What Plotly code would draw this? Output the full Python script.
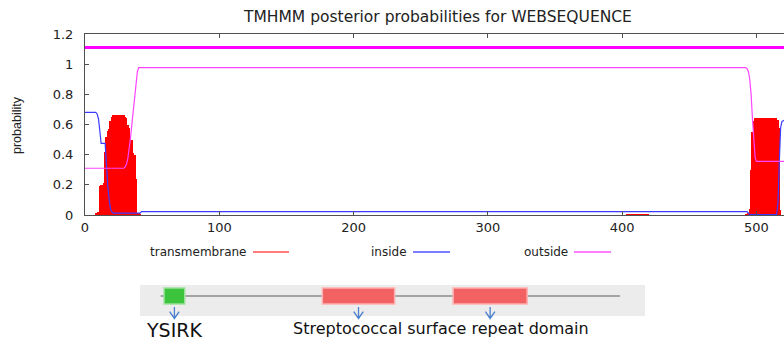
import plotly.graph_objects as go

# ---- TMHMM posterior probabilities (residue position -> probability) ----
# transmembrane helix probability, per residue (three non-zero stretches)
tm_pos_a = list(range(8, 42))
tm_val_a = [0.01, 0.015, 0.02, 0.19, 0.20, 0.20, 0.21, 0.42, 0.52, 0.56,
            0.57, 0.62, 0.65, 0.665, 0.665, 0.665, 0.665, 0.665, 0.665, 0.665,
            0.665, 0.665, 0.65, 0.64, 0.60, 0.58, 0.51, 0.50, 0.41, 0.40,
            0.24, 0.012, 0.01, 0.005]
tm_pos_b = list(range(404, 420))
tm_val_b = [0.005, 0.006, 0.006, 0.006, 0.006, 0.006, 0.006, 0.005,
            0.005, 0.006, 0.006, 0.006, 0.006, 0.005, 0.005, 0.004]
tm_pos_c = list(range(492, 519))
tm_val_c = [0.005, 0.005, 0.01, 0.04, 0.30, 0.55, 0.62, 0.64, 0.64, 0.64,
            0.64, 0.64, 0.64, 0.64, 0.64, 0.64, 0.64, 0.64, 0.64, 0.64,
            0.64, 0.64, 0.64, 0.64, 0.63, 0.58, 0.03]

# inside probability
inside_pos = [0, 8, 9, 10, 11, 12, 15, 16, 17, 18, 19, 20, 21, 41, 42,
              493, 494, 495, 515, 516, 517, 518, 519, 521]
inside_val = [0.68, 0.68, 0.67, 0.64, 0.56, 0.475, 0.475, 0.32, 0.19, 0.10,
              0.04, 0.02, 0.012, 0.012, 0.022, 0.022, 0.012, 0.002, 0.002,
              0.08, 0.35, 0.58, 0.62, 0.63]

# outside probability
outside_pos = [0, 29, 30, 31, 32, 33, 34, 35, 36, 37, 38, 39, 40,
               492, 493, 494, 495, 496, 497, 498, 499, 500, 521]
outside_val = [0.31, 0.31, 0.32, 0.34, 0.38, 0.44, 0.52, 0.61, 0.70, 0.79,
               0.88, 0.95, 0.977, 0.977, 0.97, 0.95, 0.90, 0.80, 0.64, 0.48,
               0.38, 0.355, 0.355]

# predicted topology bar (whole sequence outside)
topo_start = [0]
topo_end = [535]
topo_level = 1.11

x_ticks = [0, 100, 200, 300, 400, 500]
y_ticks = [0, 0.2, 0.4, 0.6, 0.8, 1.0, 1.2]
y_tick_text = ["0", "0.2", "0.4", "0.6", "0.8", "1", "1.2"]

# ---- domain architecture ----
protein_len = 535
domain_names = ["YSIRK", "repeat", "repeat"]
domain_start = [5, 189, 341]
domain_end = [29, 273, 427]
domain_fill = ["#3cc43c", "#f26262", "#f26262"]
domain_edge = ["#9ce09c", "#ffb0b0", "#ffb0b0"]

FONT = "DejaVu Sans"
RED, BLUE, MAGENTA = "#ff0000", "#3c3cff", "#ff44ff"

fig = go.Figure()

fig.add_trace(go.Bar(
    x=tm_pos_a + tm_pos_b + tm_pos_c,
    y=tm_val_a + tm_val_b + tm_val_c,
    width=1, marker=dict(color=RED, line=dict(width=0)),
    showlegend=False, hoverinfo="skip"))

fig.add_trace(go.Scatter(x=inside_pos, y=inside_val, mode="lines",
                         line=dict(color=BLUE, width=1.2), showlegend=False))
fig.add_trace(go.Scatter(x=outside_pos, y=outside_val, mode="lines",
                         line=dict(color=MAGENTA, width=1.2), showlegend=False))

for s, e in zip(topo_start, topo_end):
    fig.add_trace(go.Scatter(x=[s, e], y=[topo_level, topo_level], mode="lines",
                             line=dict(color="#ff00ff", width=3),
                             showlegend=False))

axis_col = "#505050"
fig.update_layout(
    width=784, height=341,
    margin=dict(l=85, r=0, t=0, b=0, pad=0),
    paper_bgcolor="white", plot_bgcolor="white",
    bargap=0,
    xaxis=dict(domain=[0, 1], range=[0, 520.5], tickvals=x_ticks,
               automargin=False,
               showgrid=False, zeroline=False,
               showline=True, linecolor=axis_col, linewidth=1, mirror="ticks",
               ticks="inside", ticklen=4, tickcolor=axis_col,
               tickfont=dict(family=FONT, size=13, color="#222"),
               anchor="y"),
    yaxis=dict(domain=[1 - 215 / 341, 1 - 34 / 341], range=[0, 1.2],
               tickvals=y_ticks, ticktext=y_tick_text,
               automargin=False,
               showgrid=False, zeroline=False,
               showline=True, linecolor=axis_col, linewidth=1,
               ticks="inside", ticklen=4, tickcolor=axis_col,
               ticklabelstandoff=8,
               tickfont=dict(family=FONT, size=13, color="#222"),
               anchor="x"),
    xaxis2=dict(domain=[(140 - 85) / 699, (645 - 85) / 699], range=[-23, 564],
                visible=False, automargin=False, anchor="y2"),
    yaxis2=dict(domain=[0, 0.2], range=[0, 1], visible=False,
                automargin=False, anchor="x2"),
)

# title and axis label
fig.add_annotation(text="TMHMM posterior probabilities for WEBSEQUENCE",
                   xref="paper", yref="paper", x=(437 - 85) / 699, y=1 - 17 / 341,
                   xanchor="center", yanchor="middle", showarrow=False,
                   font=dict(family=FONT, size=15.5, color="#222"))
fig.add_annotation(text="probability", xref="paper", yref="paper",
                   x=(17 - 85) / 699, y=1 - 125 / 341, textangle=-90,
                   xanchor="center", yanchor="middle", showarrow=False,
                   font=dict(family="Liberation Sans", size=12.5, color="#222"))

# key
key = [("transmembrane", 148, 253, 289, "#ff5050"),
       ("inside", 369, 413, 450, "#5050ff"),
       ("outside", 522, 574, 611, "#ff50ff")]
ky = 1 - 252 / 341
for label, tx, l0, l1, col in key:
    fig.add_annotation(text=label, xref="paper", yref="paper",
                       x=(tx - 85) / 699, y=ky, xanchor="left", yanchor="middle",
                       showarrow=False,
                       font=dict(family=FONT, size=12, color="#222"))
    fig.add_shape(type="line", xref="paper", yref="paper",
                  x0=(l0 - 85) / 699, x1=(l1 - 85) / 699, y0=ky, y1=ky,
                  line=dict(color=col, width=1.5))

# domain architecture panel
fig.add_shape(type="rect", xref="x2 domain", yref="y2", x0=0, x1=1,
              y0=0.367, y1=0.821, fillcolor="#ececec", line=dict(width=0),
              layer="below")
fig.add_shape(type="line", xref="x2", yref="y2", x0=1, x1=protein_len,
              y0=0.66, y1=0.66, line=dict(color="#a4a4a4", width=2))
head = 5.5  # arrow-head half width, in residues
for s, e, fc, ec in zip(domain_start, domain_end, domain_fill, domain_edge):
    fig.add_shape(type="rect", xref="x2", yref="y2", x0=s, x1=e,
                  y0=0.543, y1=0.777, fillcolor=fc, line=dict(color=ec, width=1.5))
    c = (s + e) / 2
    fig.add_shape(type="path", xref="x2", yref="y2",
                  path=(f"M {c},0.50 L {c},0.33 "
                        f"M {c - head},0.43 L {c},0.33 L {c + head},0.43"),
                  line=dict(color="#4a80cc", width=1.3))

fig.add_annotation(text="YSIRK", xref="x2", yref="y2",
                   x=(domain_start[0] + domain_end[0]) / 2, y=0.16,
                   showarrow=False, xanchor="center", yanchor="middle",
                   font=dict(family=FONT, size=19, color="#111"))
fig.add_annotation(text="Streptococcal surface repeat domain", xref="x2", yref="y2",
                   x=327, y=0.19, showarrow=False, xanchor="center", yanchor="middle",
                   font=dict(family=FONT, size=16, color="#111"))

fig.write_html("out.html")
